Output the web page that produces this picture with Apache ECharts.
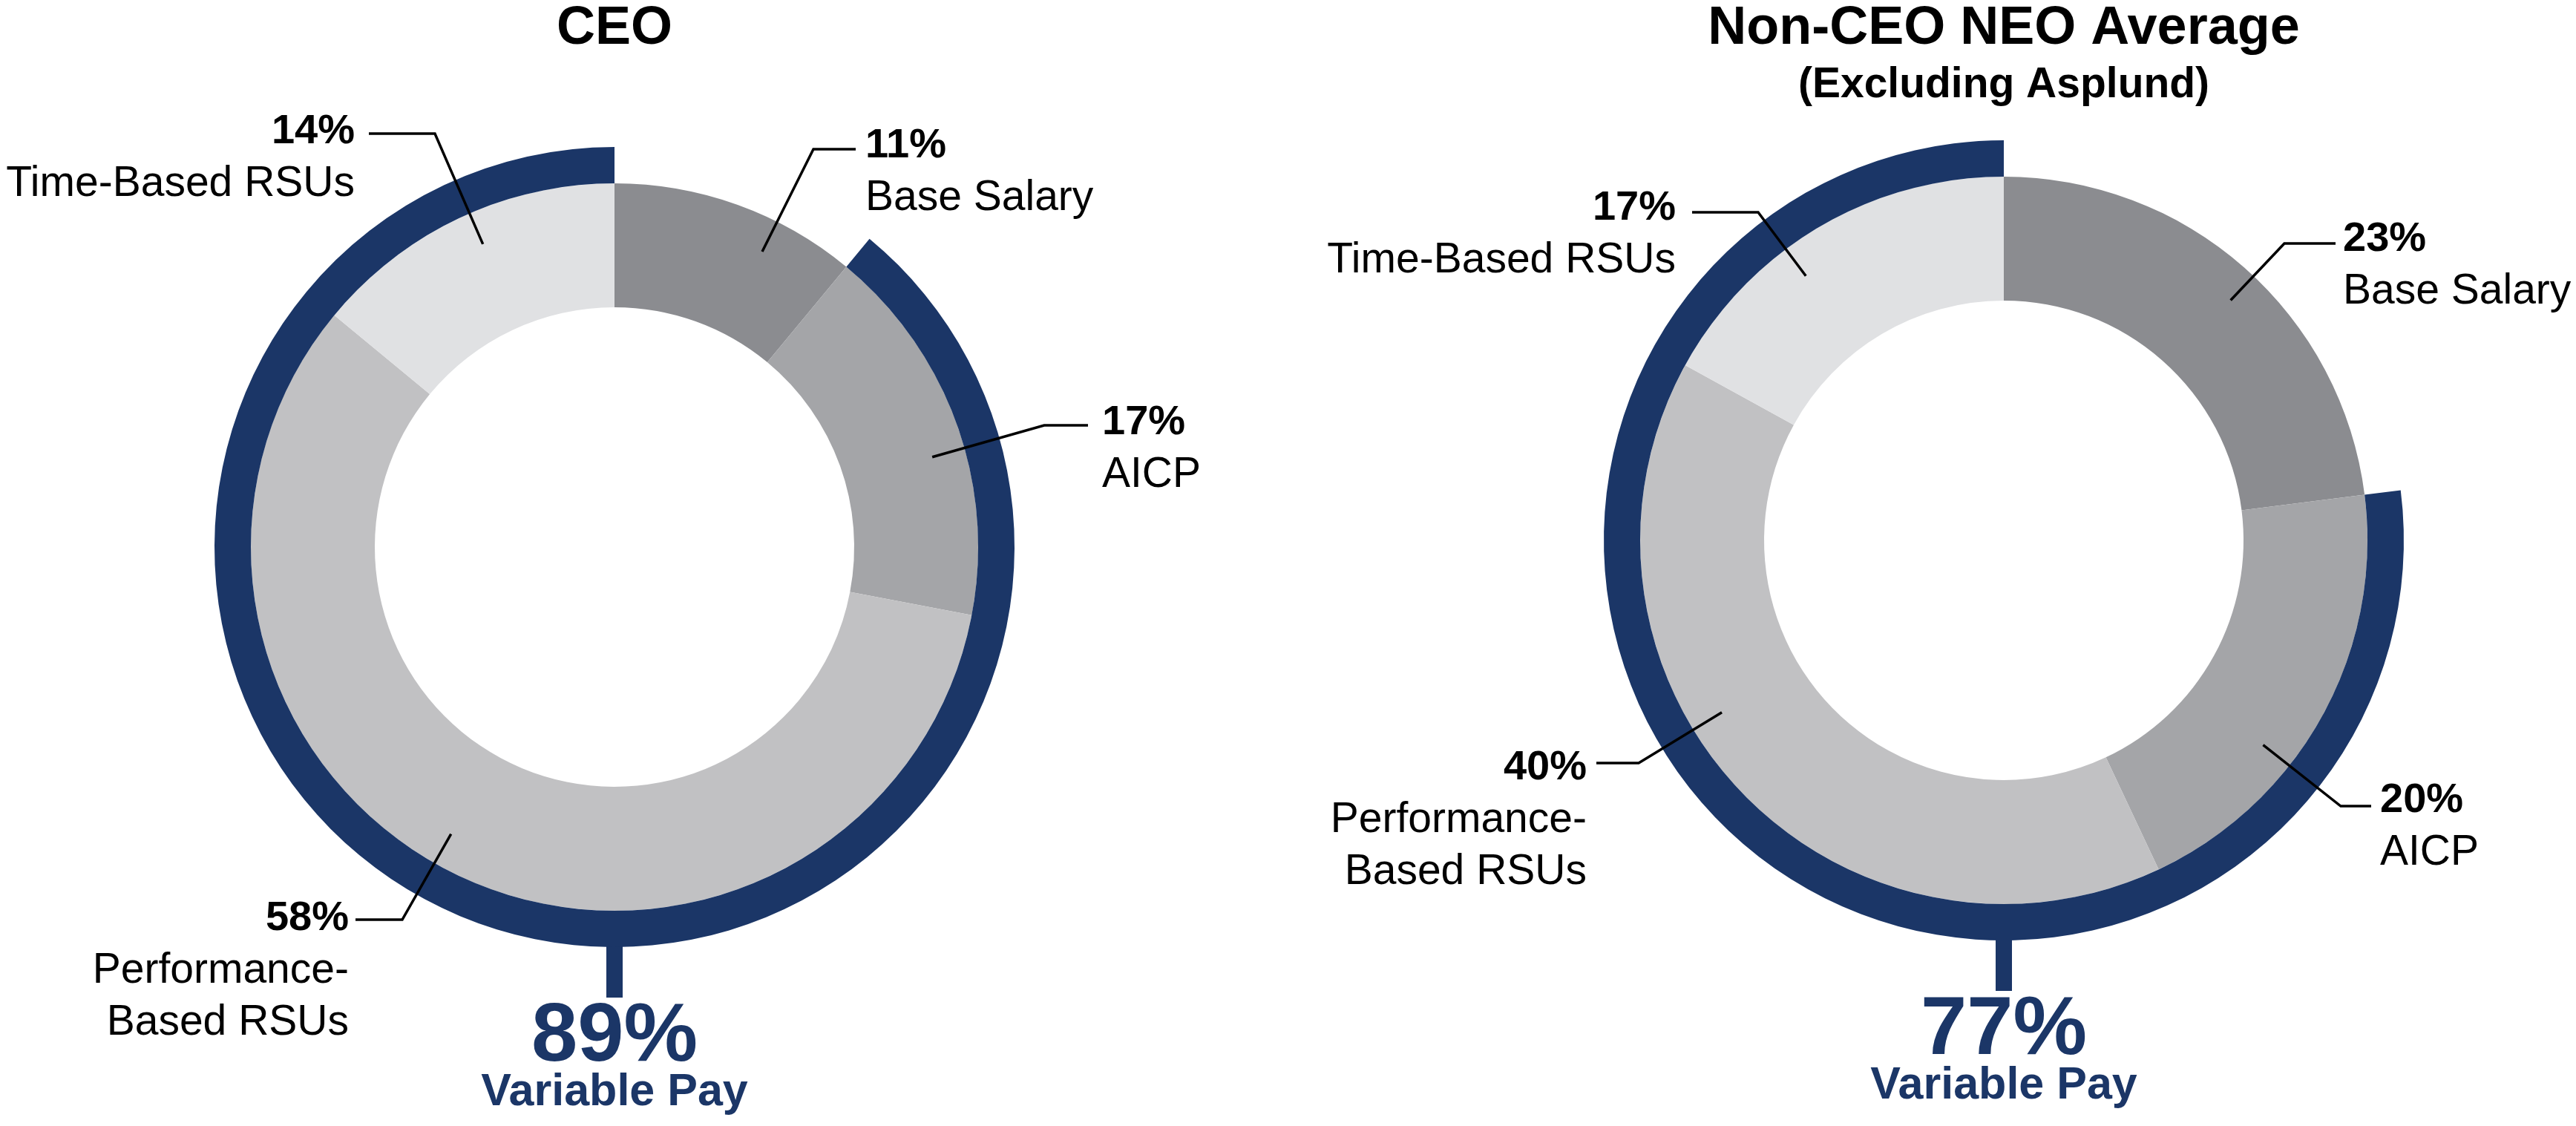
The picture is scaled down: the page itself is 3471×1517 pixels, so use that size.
<!DOCTYPE html>
<html>
<head>
<meta charset="utf-8">
<script src="https://cdn.jsdelivr.net/npm/echarts@6/dist/echarts.min.js"></script>
<style>
  html, body { margin: 0; padding: 0; background: #ffffff; }
  #chart { width: 3471px; height: 1517px; }
</style>
</head>
<body>
<div id="chart"></div>
<script>
// ---------------- data ----------------
const categories = ['Base Salary', 'AICP', 'Performance-\nBased RSUs', 'Time-Based RSUs'];
const ceoValues = [11, 17, 58, 14];
const neoValues = [23, 20, 40, 17];
const panelTitles = ['CEO', 'Non-CEO NEO Average'];
const panelSubtitles = ['', '(Excluding Asplund)'];
const variableLabel = 'Variable Pay';

// ---------------- styles / layout ----------------
const FONT = "'Liberation Sans', Arial, Helvetica, sans-serif";
const NAVY = '#1b3667';
const sliceColors = ['#8b8c90', '#a4a5a8', '#c1c1c3', '#e0e1e3'];
const R_INNER = 323, R_OUTER = 490, R_RING = 539, R_LABEL = 445;
const LINE_H = 70;

const panels = [
  {
    values: ceoValues, title: panelTitles[0], subtitle: panelSubtitles[0],
    center: [828, 737],
    labels: [
      { side: 'R', tx: 1166, ty: 197, lx: 1153, ly: 201, bx: 1096 },
      { side: 'R', tx: 1485, ty: 570, lx: 1466, ly: 573, bx: 1407 },
      { side: 'L', tx: 470,  ty: 1238, lx: 479, ly: 1239, bx: 542 },
      { side: 'L', tx: 478,  ty: 178, lx: 497, ly: 180, bx: 586 }
    ]
  },
  {
    values: neoValues, title: panelTitles[1], subtitle: panelSubtitles[1],
    center: [2700, 728],
    labels: [
      { side: 'R', tx: 3157, ty: 323, lx: 3147, ly: 328, bx: 3078 },
      { side: 'R', tx: 3207, ty: 1079, lx: 3195, ly: 1086, bx: 3154 },
      { side: 'L', tx: 2138, ty: 1035, lx: 2151, ly: 1028, bx: 2208 },
      { side: 'L', tx: 2258, ty: 281, lx: 2280, ly: 286, bx: 2369 }
    ]
  }
];

const chart = echarts.init(document.getElementById('chart'), null, { renderer: 'canvas' });

const series = [];
const titles = [];
const graphics = [];

panels.forEach(function (pn) {
  const cx = pn.center[0], cy = pn.center[1];
  const base = pn.values[0];
  const variable = pn.values.slice(1).reduce(function (a, b) { return a + b; }, 0);

  // gray donut
  series.push({
    type: 'pie', silent: true, animation: false, z: 2,
    center: pn.center, radius: [R_INNER, R_OUTER],
    startAngle: 90, clockwise: true,
    label: { show: false }, labelLine: { show: false },
    data: categories.map(function (c, i) {
      return { name: c, value: pn.values[i], itemStyle: { color: sliceColors[i], borderWidth: 0 } };
    })
  });

  // navy "variable pay" ring
  series.push({
    type: 'pie', silent: true, animation: false, z: 3,
    center: pn.center, radius: [R_OUTER, R_RING],
    startAngle: 90, clockwise: true,
    label: { show: false }, labelLine: { show: false },
    data: [
      { name: 'fixed', value: base, itemStyle: { color: 'rgba(0,0,0,0)' } },
      { name: variableLabel, value: variable, itemStyle: { color: NAVY } }
    ]
  });

  // invisible pie carrying the labels and leader lines (drawn on top)
  series.push({
    type: 'pie', silent: true, animation: false, z: 10,
    center: pn.center, radius: [0, R_LABEL],
    startAngle: 90, clockwise: true,
    avoidLabelOverlap: false,
    itemStyle: { color: 'rgba(0,0,0,0)' },
    label: {
      show: true, position: 'outside',
      formatter: function (p) { return '{p|' + p.value + '%}\n{n|' + p.name + '}'; },
      color: '#000',
      rich: {
        p: { fontSize: 56, fontWeight: 'bold', fontFamily: FONT, lineHeight: LINE_H, color: '#000' },
        n: { fontSize: 57, fontWeight: 'normal', fontFamily: FONT, lineHeight: LINE_H, color: '#000' }
      }
    },
    labelLine: { show: true, smooth: false, lineStyle: { color: '#000', width: 3.5 } },
    labelLayout: function (p) {
      const L = pn.labels[p.dataIndex];
      const vx = L.bx - cx, vy = L.ly - cy, d = Math.sqrt(vx * vx + vy * vy);
      const start = [cx + vx / d * R_LABEL, cy + vy / d * R_LABEL];
      return {
        x: L.tx, y: L.ty - LINE_H / 2,
        align: L.side === 'R' ? 'left' : 'right',
        verticalAlign: 'top',
        labelLinePoints: [start, [L.bx, L.ly], [L.lx, L.ly]]
      };
    },
    data: categories.map(function (c, i) {
      return { name: c, value: pn.values[i] };
    })
  });

  // texts
  titles.push({
    text: pn.title, left: cx, top: 39, padding: 0,
    textAlign: 'center', textVerticalAlign: 'middle',
    textStyle: { fontSize: 72, fontWeight: 'bold', fontFamily: FONT, color: '#000' }
  });
  if (pn.subtitle) {
    titles.push({
      text: pn.subtitle, left: cx, top: 115, padding: 0,
      textAlign: 'center', textVerticalAlign: 'middle',
      textStyle: { fontSize: 57, fontWeight: 'bold', fontFamily: FONT, color: '#000' }
    });
  }
  titles.push({
    text: variable + '%', left: cx, top: cy + 661, padding: 0,
    textAlign: 'center', textVerticalAlign: 'middle',
    textStyle: { fontSize: 112, fontWeight: 'bold', fontFamily: FONT, color: NAVY }
  });
  titles.push({
    text: variableLabel, left: cx, top: cy + 735, padding: 0,
    textAlign: 'center', textVerticalAlign: 'middle',
    textStyle: { fontSize: 61, fontWeight: 'bold', fontFamily: FONT, color: NAVY }
  });

  // stub connecting ring to the variable-pay figure
  graphics.push({
    type: 'rect', silent: true, z: 3,
    shape: { x: cx - 11, y: cy + R_RING - 2, width: 22, height: 70 },
    style: { fill: NAVY }
  });
});

chart.setOption({
  backgroundColor: '#ffffff',
  animation: false,
  title: titles,
  graphic: graphics,
  series: series
});
</script>
</body>
</html>
